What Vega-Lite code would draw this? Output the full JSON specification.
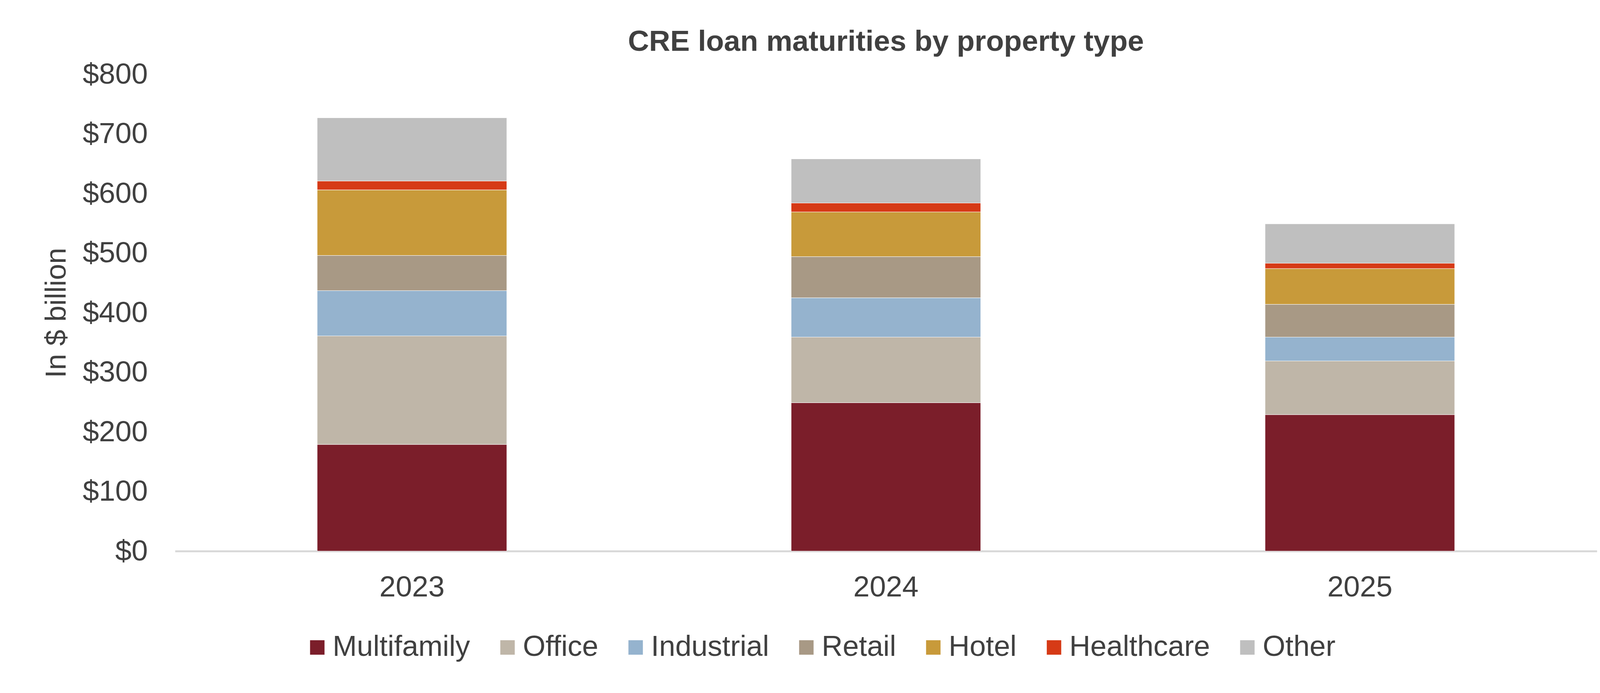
{
  "$schema": "https://vega.github.io/schema/vega-lite/v6.json",
  "autosize": "none",
  "width": 3640,
  "height": 1220,
  "padding": {"left": 448, "top": 190, "right": 94, "bottom": 363},
  "background": "white",
  "title": {
    "text": "CRE loan maturities by property type",
    "anchor": "middle",
    "frame": "group",
    "font": "Liberation Sans",
    "fontSize": 75,
    "fontWeight": "bold",
    "color": "#404040",
    "offset": 7
  },
  "data": {
    "values": [
      {"year": "2023", "type": "Multifamily", "k": 1, "value": 179},
      {"year": "2023", "type": "Office", "k": 2, "value": 182},
      {"year": "2023", "type": "Industrial", "k": 3, "value": 76},
      {"year": "2023", "type": "Retail", "k": 4, "value": 59},
      {"year": "2023", "type": "Hotel", "k": 5, "value": 110},
      {"year": "2023", "type": "Healthcare", "k": 6, "value": 15},
      {"year": "2023", "type": "Other", "k": 7, "value": 106},
      {"year": "2024", "type": "Multifamily", "k": 1, "value": 249},
      {"year": "2024", "type": "Office", "k": 2, "value": 110},
      {"year": "2024", "type": "Industrial", "k": 3, "value": 66},
      {"year": "2024", "type": "Retail", "k": 4, "value": 69},
      {"year": "2024", "type": "Hotel", "k": 5, "value": 75},
      {"year": "2024", "type": "Healthcare", "k": 6, "value": 15},
      {"year": "2024", "type": "Other", "k": 7, "value": 74},
      {"year": "2025", "type": "Multifamily", "k": 1, "value": 229},
      {"year": "2025", "type": "Office", "k": 2, "value": 90},
      {"year": "2025", "type": "Industrial", "k": 3, "value": 40},
      {"year": "2025", "type": "Retail", "k": 4, "value": 55},
      {"year": "2025", "type": "Hotel", "k": 5, "value": 60},
      {"year": "2025", "type": "Healthcare", "k": 6, "value": 9},
      {"year": "2025", "type": "Other", "k": 7, "value": 66}
    ]
  },
  "mark": {"type": "bar", "stroke": "white", "strokeWidth": 1},
  "encoding": {
    "x": {
      "field": "year",
      "type": "nominal",
      "scale": {"paddingInner": 0.6, "paddingOuter": 0.3},
      "axis": {
        "title": null,
        "labelAngle": 0,
        "labelFontSize": 75,
        "labelFont": "Liberation Sans",
        "labelColor": "#404040",
        "labelPadding": 56,
        "ticks": false,
        "domainColor": "#d9d9d9",
        "domainWidth": 5,
        "grid": false
      }
    },
    "y": {
      "field": "value",
      "type": "quantitative",
      "stack": "zero",
      "scale": {"domain": [0, 800], "nice": false},
      "axis": {
        "title": "In $ billion",
        "titleFont": "Liberation Sans",
        "titleFontSize": 74,
        "titleFontWeight": "normal",
        "titleColor": "#404040",
        "titlePadding": 65,
        "values": [0, 100, 200, 300, 400, 500, 600, 700, 800],
        "labelExpr": "'$' + datum.value",
        "labelFontSize": 75,
        "labelFont": "Liberation Sans",
        "labelColor": "#404040",
        "labelPadding": 70,
        "ticks": false,
        "domain": false,
        "grid": false
      }
    },
    "color": {
      "field": "type",
      "type": "nominal",
      "scale": {
        "domain": ["Multifamily", "Office", "Industrial", "Retail", "Hotel", "Healthcare", "Other"],
        "range": ["#7B1E2A", "#BFB6A8", "#95B3CE", "#A89985", "#C89A3A", "#D63A16", "#BFBFBF"]
      },
      "legend": {
        "title": null,
        "orient": "none",
        "direction": "horizontal",
        "legendX": 327,
        "legendY": 1429,
        "symbolType": "square",
        "symbolSize": 1369,
        "symbolStrokeWidth": 0,
        "labelFontSize": 74.5,
        "labelFont": "Liberation Sans",
        "labelColor": "#404040",
        "labelOffset": 2,
        "columnPadding": 58,
        "padding": 0,
        "labelLimit": 1000
      }
    },
    "order": {"field": "k", "type": "quantitative", "sort": "ascending"}
  },
  "config": {"view": {"stroke": null}}
}
